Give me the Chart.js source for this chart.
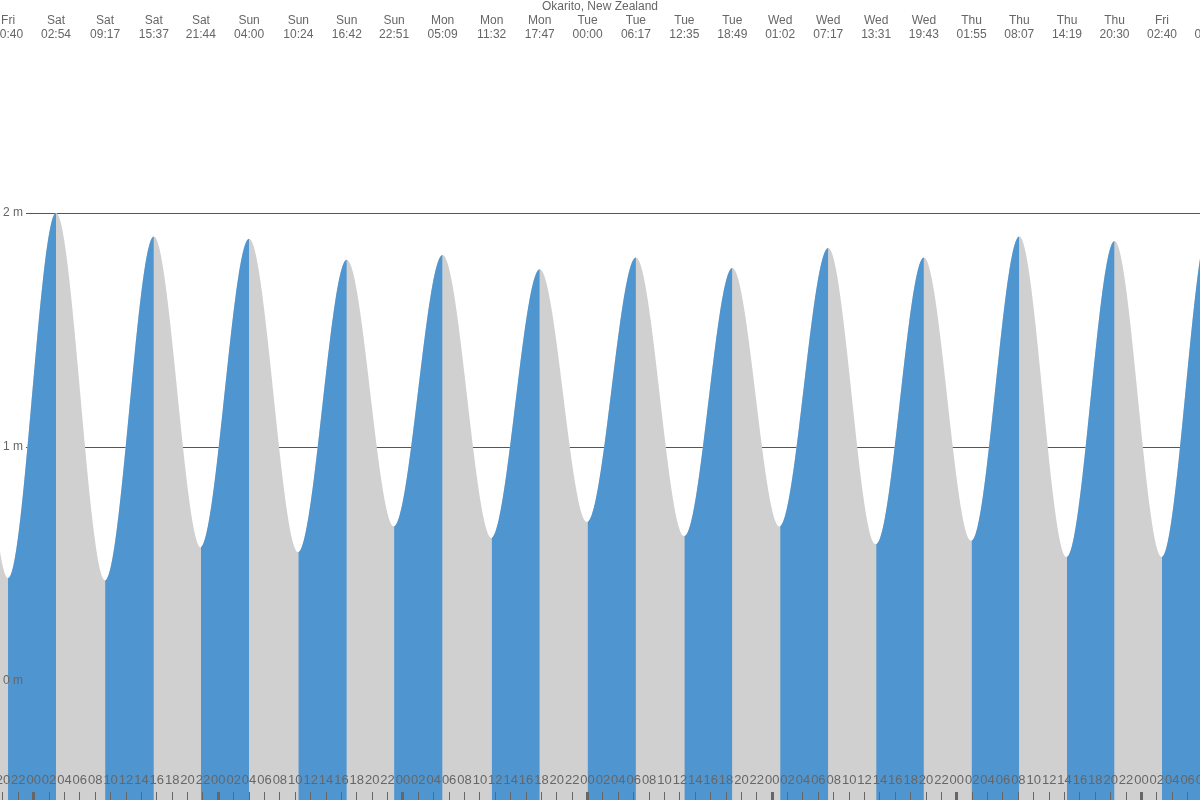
<!DOCTYPE html>
<html>
<head>
<meta charset="utf-8">
<title>Okarito, New Zealand</title>
<script src="https://cdn.jsdelivr.net/npm/chart.js@4/dist/chart.umd.min.js"></script>
<style>
  html, body { margin: 0; padding: 0; background: #fff; }
  #contenedor { width: 1200px; height: 800px; }
</style>
</head>
<body>
<div id="contenedor"><canvas id="graficoMareas"></canvas></div>
<script>
// Pleamares y bajamares (día, hora, altura en metros)
const dias = ['Fri', 'Fri', 'Fri',
    'Sat', 'Sat', 'Sat', 'Sat',
    'Sun', 'Sun', 'Sun', 'Sun',
    'Mon', 'Mon', 'Mon',
    'Tue', 'Tue', 'Tue', 'Tue',
    'Wed', 'Wed', 'Wed', 'Wed',
    'Thu', 'Thu', 'Thu', 'Thu',
    'Fri', 'Fri', 'Fri'];
const horas = ['08:10', '14:25', '20:40',
    '02:54', '09:17', '15:37', '21:44',
    '04:00', '10:24', '16:42', '22:51',
    '05:09', '11:32', '17:47',
    '00:00', '06:17', '12:35', '18:49',
    '01:02', '07:17', '13:31', '19:43',
    '01:55', '08:07', '14:19', '20:30',
    '02:40', '08:50', '15:00'];
const alturas = [0.45, 1.95, 0.44,
    2.00, 0.43, 1.90, 0.57,
    1.89, 0.55, 1.80, 0.66,
    1.82, 0.61, 1.76,
    0.68, 1.81, 0.62, 1.765,
    0.66, 1.85, 0.585, 1.81,
    0.60, 1.90, 0.53, 1.88,
    0.53, 1.95, 0.50];

// Eje vertical
const valoresEjeY = [0, 1, 2];
const etiquetasEjeY = ['0 m', '1 m', '2 m'];

// Ventana visible (horas desde el primer viernes a las 00:00) y alturas
const horaInicio = 19.62;
const horaFin = 175.61;
const alturaMin = -0.5085;
const alturaMax = 2.8547;

const azul = '#4f95d0';
const gris = '#d0d0d0';
const colorTexto = '#666';
const fuente = 'Liberation Sans';

// Pasamos día + hora a horas absolutas
let indiceDia = 0;
const tiempos = horas.map((h, i) => {
    if (i > 0 && dias[i] !== dias[i - 1]) indiceDia++;
    const [hh, mm] = h.split(':').map(Number);
    return indiceDia * 24 + hh + mm / 60;
});

const puntos = tiempos.map((t, i) => ({ x: t, y: alturas[i] }));

// Etiquetas de arriba (sólo las que caen cerca de la ventana)
const marcasArriba = [];
const etiquetasArriba = [];
tiempos.forEach((t, i) => {
    if (t > horaInicio - 4 && t < horaFin + 4) {
        marcasArriba.push(t);
        etiquetasArriba.push([dias[i], horas[i]]);
    }
});

// Marcas de abajo cada 2 horas
const marcasAbajo = [];
for (let h = 20; h <= 176; h += 2) marcasAbajo.push(h);

const sinAlto = (escala) => {
    escala.height = 0;
    escala.paddingLeft = 0;
    escala.paddingRight = 0;
};
const sinAncho = (escala) => {
    escala.width = 0;
    escala.paddingTop = 0;
    escala.paddingBottom = 0;
};

const ctx = document.getElementById('graficoMareas').getContext('2d');

new Chart(ctx, {
    type: 'line',
    data: {
        datasets: [{
            // subida en azul (encima)
            data: puntos,
            xAxisID: 'x',
            yAxisID: 'y',
            borderWidth: 0,
            borderColor: 'rgba(0,0,0,0)',
            pointRadius: 0,
            fill: 'start',
            backgroundColor: azul,
            cubicInterpolationMode: 'monotone',
            segment: {
                backgroundColor: c => c.p1.parsed.y > c.p0.parsed.y ? azul : 'rgba(0,0,0,0)'
            }
        }, {
            // todo en gris por debajo
            data: puntos,
            xAxisID: 'x',
            yAxisID: 'y',
            borderWidth: 0,
            borderColor: 'rgba(0,0,0,0)',
            pointRadius: 0,
            fill: 'start',
            backgroundColor: gris,
            cubicInterpolationMode: 'monotone'
        }]
    },
    options: {
        responsive: true,
        maintainAspectRatio: false,
        animation: false,
        events: [],
        layout: { padding: 0 },
        plugins: {
            legend: { display: false },
            tooltip: { enabled: false },
            title: {
                display: true,
                text: 'Okarito, New Zealand',
                color: colorTexto,
                padding: { top: 1, bottom: 0 },
                font: { family: fuente, size: 12, weight: 'normal', lineHeight: '12px' }
            }
        },
        scales: {
            x: {
                type: 'linear',
                position: { y: alturaMin },
                min: horaInicio,
                max: horaFin,
                afterFit: sinAlto,
                afterBuildTicks: s => { s.ticks = marcasAbajo.map(v => ({ value: v })); },
                grid: {
                    z: 1,
                    drawOnChartArea: false,
                    tickLength: -8,
                    tickColor: '#666',
                    tickWidth: c => (c.tick && c.tick.value % 24 === 0) ? 3 : 1
                },
                border: { display: false },
                ticks: {
                    z: 1,
                    autoSkip: false,
                    maxRotation: 0,
                    padding: -19,
                    color: colorTexto,
                    font: { family: fuente, size: 13 },
                    callback: v => String(v % 24).padStart(2, '0')
                }
            },
            xTop: {
                type: 'linear',
                position: { y: alturaMax },
                min: horaInicio,
                max: horaFin,
                afterFit: sinAlto,
                afterBuildTicks: s => { s.ticks = marcasArriba.map(v => ({ value: v })); },
                grid: { display: false },
                border: { display: false },
                ticks: {
                    autoSkip: false,
                    maxRotation: 0,
                    padding: -7,
                    color: colorTexto,
                    font: { family: fuente, size: 12, lineHeight: '13.5px' },
                    callback: (v, i) => etiquetasArriba[i]
                }
            },
            yGrid: {
                type: 'linear',
                position: 'left',
                min: alturaMin,
                max: alturaMax,
                afterFit: sinAncho,
                afterBuildTicks: s => { s.ticks = valoresEjeY.map(v => ({ value: v })); },
                grid: { color: '#555', lineWidth: 1, drawTicks: false },
                border: { display: false },
                ticks: { display: false }
            },
            y: {
                type: 'linear',
                position: 'left',
                min: alturaMin,
                max: alturaMax,
                afterFit: sinAncho,
                afterBuildTicks: s => { s.ticks = valoresEjeY.map(v => ({ value: v })); },
                grid: { display: false },
                border: { display: false },
                ticks: {
                    z: 1,
                    mirror: true,
                    padding: 3,
                    color: colorTexto,
                    font: { family: fuente, size: 12 },
                    callback: (v, i) => etiquetasEjeY[i],
                    showLabelBackdrop: true,
                    backdropColor: c => c.tick.value === 0 ? 'rgba(0,0,0,0)' : '#fff',
                    backdropPadding: { left: 3, right: 3, top: 1, bottom: 1 }
                }
            }
        }
    }
});
</script>
</body>
</html>
